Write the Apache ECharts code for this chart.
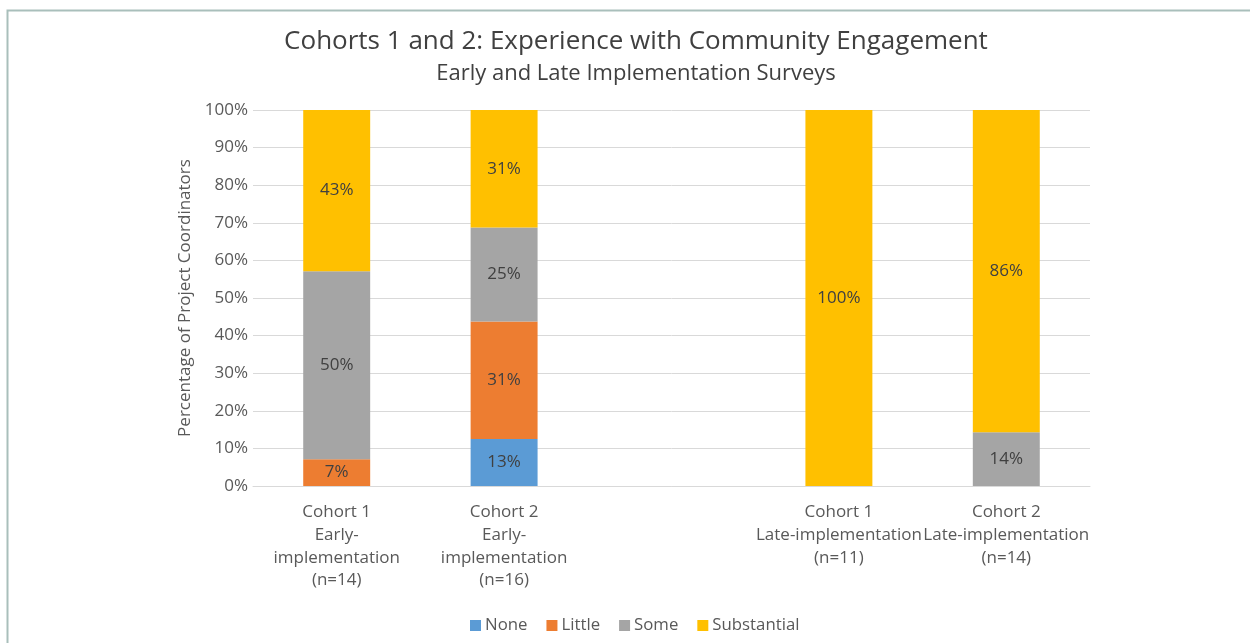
<!DOCTYPE html>
<html>
<head>
<meta charset="utf-8">
<script src="https://cdn.jsdelivr.net/npm/echarts@6/dist/echarts.min.js"></script>
<style>html,body{margin:0;padding:0;background:#fff;}#c{width:1250px;height:643px;}</style>
</head>
<body>
<div id="c"></div>
<script>
const categories = [
  'Cohort 1\nEarly-\nimplementation\n(n=14)',
  'Cohort 2\nEarly-\nimplementation\n(n=16)',
  '',
  'Cohort 1\nLate-implementation\n(n=11)',
  'Cohort 2\nLate-implementation\n(n=14)'
];
const seriesNames = ['None', 'Little', 'Some', 'Substantial'];
const noneVals = [0, 12.5, null, 0, 0];
const littleVals = [7.14, 31.25, null, 0, 0];
const someVals = [50, 25, null, 0, 14.29];
const substantialVals = [42.86, 31.25, null, 100, 85.71];
const colors = ['#5B9BD5', '#ED7D31', '#A5A5A5', '#FFC000'];
const yTicks = [0, 10, 20, 30, 40, 50, 60, 70, 80, 90, 100];

const FONT = '"Open Sans", Lato, sans-serif';
const chart = echarts.init(document.getElementById('c'));
const allVals = [noneVals, littleVals, someVals, substantialVals];
chart.setOption({
  animation: false,
  textStyle: { fontFamily: FONT },
  title: {
    text: 'Cohorts 1 and 2: Experience with Community Engagement',
    subtext: 'Early and Late Implementation Surveys',
    left: 631, top: 24, textAlign: 'center',
    itemGap: 8,
    textStyle: { fontFamily: FONT, fontSize: 26, fontWeight: 'normal', color: '#404040' },
    subtextStyle: { fontFamily: FONT, fontSize: 22, color: '#404040' }
  },
  graphic: [{
    type: 'rect', silent: true, z: -1,
    shape: { x: 7.5, y: 10.5, width: 1300, height: 700 },
    style: { fill: 'none', stroke: '#A9BFBB', lineWidth: 2 }
  }],
  legend: {
    bottom: 4, left: 465,
    icon: 'rect', itemWidth: 11, itemHeight: 11, itemGap: 19,
    data: seriesNames,
    textStyle: { fontFamily: FONT, fontSize: 16.8, color: '#595959', padding: [0, 0, 0, -1] }
  },
  grid: { left: 253, right: 160, top: 110, bottom: 157 },
  xAxis: {
    type: 'category', data: categories,
    axisLine: { lineStyle: { color: '#D9D9D9' } },
    axisTick: { show: false },
    axisLabel: { interval: 0, fontFamily: FONT, fontSize: 17, color: '#595959', lineHeight: 22.7, margin: 15 }
  },
  yAxis: {
    type: 'value', min: 0, max: 100, interval: 10,
    name: 'Percentage of Project Coordinators',
    nameLocation: 'middle', nameGap: 56, nameRotate: 90,
    nameTextStyle: { fontFamily: FONT, fontSize: 17, color: '#595959' },
    axisLabel: { formatter: v => v + '%', fontFamily: FONT, fontSize: 17, color: '#595959', margin: 5 },
    splitLine: { lineStyle: { color: '#D9D9D9' } },
    axisLine: { show: false }, axisTick: { show: false }
  },
  series: seriesNames.map((n, i) => ({
    name: n, type: 'bar', stack: 'all', barWidth: '40%',
    itemStyle: { color: colors[i] },
    data: allVals[i],
    label: {
      show: true, position: 'inside', fontFamily: FONT, fontSize: 17, color: '#404040',
      formatter: p => (p.value && p.value > 0) ? Math.round(p.value) + '%' : ''
    }
  }))
});
</script>
</body>
</html>
